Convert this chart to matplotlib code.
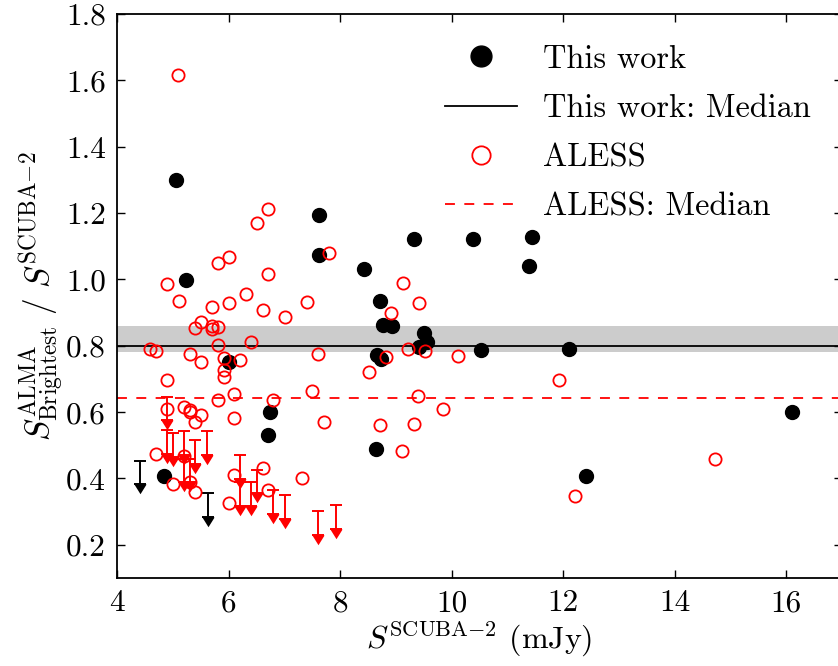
import numpy as np
import matplotlib
matplotlib.use("Agg")
import matplotlib.pyplot as plt

plt.rcParams['font.family'] = 'serif'
plt.rcParams['font.serif'] = ['cmr10', 'DejaVu Serif']
plt.rcParams['mathtext.fontset'] = 'cm'
plt.rcParams['axes.formatter.use_mathtext'] = True
plt.rcParams['axes.unicode_minus'] = False

# ---- This work: detections ----
this_x = [5.06, 5.24, 7.62, 7.62, 8.42, 9.33, 10.39, 11.45, 11.38, 8.71, 8.77, 8.93,
          9.51, 9.56, 9.42, 8.66, 8.74, 10.53, 12.10, 6.01, 6.74, 6.71, 4.84, 8.65,
          12.41, 16.10]
this_y = [1.30, 0.997, 1.193, 1.074, 1.031, 1.122, 1.121, 1.127, 1.041, 0.935, 0.864, 0.861,
          0.838, 0.810, 0.796, 0.771, 0.761, 0.788, 0.790, 0.750, 0.600, 0.530, 0.408, 0.490,
          0.408, 0.601]
# ---- This work: upper limits ----
this_lim_x = [4.41, 5.64]
this_lim_y = [0.454, 0.356]

# ---- ALESS: detections ----
aless_x = [5.10, 4.90, 5.11, 5.81, 6.01, 5.71, 6.01, 6.31, 6.51, 6.71, 6.71, 6.61, 7.01,
           7.41, 7.81, 5.40, 5.51, 5.71, 5.71, 5.81, 4.59, 4.70, 5.81, 6.40, 5.30, 5.51,
           5.91, 6.21, 5.91, 5.91, 4.90, 5.81, 6.10, 6.80, 7.50, 7.61, 7.71, 4.90, 5.20,
           5.30, 5.30, 5.51, 5.40, 6.10, 4.70, 5.20, 6.10, 6.61, 6.71, 7.31, 5.00, 5.30,
           5.40, 6.01, 9.12, 9.42, 8.91, 8.82, 9.21, 9.52, 10.12, 8.51, 11.92, 9.40, 9.84,
           14.73, 12.22, 8.72, 9.33, 9.11]
aless_y = [1.617, 0.986, 0.936, 1.049, 1.069, 0.917, 0.930, 0.956, 1.171, 1.211, 1.016, 0.908, 0.886,
           0.933, 1.081, 0.855, 0.872, 0.861, 0.851, 0.858, 0.791, 0.784, 0.801, 0.811, 0.776, 0.750,
           0.763, 0.758, 0.728, 0.705, 0.698, 0.637, 0.655, 0.637, 0.664, 0.776, 0.570, 0.610, 0.615,
           0.607, 0.600, 0.590, 0.570, 0.583, 0.475, 0.467, 0.409, 0.433, 0.364, 0.400, 0.382, 0.388,
           0.358, 0.325, 0.989, 0.930, 0.899, 0.766, 0.791, 0.783, 0.770, 0.720, 0.696, 0.649, 0.610,
           0.459, 0.348, 0.562, 0.565, 0.484]
# ---- ALESS: upper limits ----
aless_lim_x = [4.90, 4.90, 5.00, 5.20, 5.20, 5.30, 5.40, 5.61, 6.21, 6.21, 6.41, 6.51, 6.80,
               7.01, 7.61, 7.92]
aless_lim_y = [0.647, 0.547, 0.537, 0.542, 0.460, 0.460, 0.517, 0.544, 0.470, 0.390, 0.388,
               0.427, 0.364, 0.349, 0.301, 0.319]
lim_len = 0.072

# ---- medians ----
this_median = 0.80
this_median_lo = 0.78
this_median_hi = 0.86
aless_median = 0.643

xticks = [4, 6, 8, 10, 12, 14, 16]
yticks = [0.2, 0.4, 0.6, 0.8, 1.0, 1.2, 1.4, 1.6, 1.8]

fig = plt.figure(figsize=(8.38, 6.66), dpi=100)
ax = fig.add_axes([117 / 838, 88 / 666, 725 / 838, 564 / 666])

ax.axhspan(this_median_lo, this_median_hi, color='#cccccc', lw=0, zorder=0)
ax.axhline(this_median, color='k', lw=1.3, zorder=1, label='This work: Median')
ax.axhline(aless_median, color='red', lw=1.3, ls=(0, (5.5, 5.2)), zorder=1, label='ALESS: Median')

tri = [(-1, 0), (1, 0), (0, -1.6)]


def limits(xs, ys, color):
    xs = np.asarray(xs)
    ys = np.asarray(ys)
    err = np.vstack([np.full(len(ys), lim_len), np.zeros(len(ys))])
    ax.errorbar(xs, ys, yerr=err, fmt='none', ecolor=color, elinewidth=1.4,
                capsize=4.2, capthick=1.4, zorder=2)
    ax.plot(xs, ys - lim_len, ls='none', marker=tri, markersize=14,
            color=color, markeredgewidth=0, zorder=2)


limits(this_lim_x, this_lim_y, 'k')
limits(aless_lim_x, aless_lim_y, 'red')

ax.plot(this_x, this_y, ls='none', marker='o', markersize=10, color='k',
        markeredgecolor='k', zorder=3, label='This work')
ax.plot(aless_x, aless_y, ls='none', marker='o', markersize=8.8, markerfacecolor='none',
        markeredgecolor='red', markeredgewidth=1.3, zorder=4, label='ALESS')

ax.set_xlim(4, 17)
ax.set_ylim(0.1, 1.8)
ax.set_xticks(xticks)
ax.set_yticks(yticks)
ax.set_xticklabels([str(t) for t in xticks])
ax.set_yticklabels(['%.1f' % t for t in yticks])
ax.tick_params(direction='in', top=True, right=True, length=6, width=1.0,
               labelsize=22.5, pad=8)
for s in ax.spines.values():
    s.set_linewidth(1.3)

ax.set_xlabel(r'$S^{{\rm SCUBA}{-}2}$ (mJy)', fontsize=23, labelpad=2)
ax.set_ylabel(r'$S^{\rm ALMA}_{\rm Brightest}\ /\ S^{{\rm SCUBA}{-}2}$', fontsize=24, labelpad=-1)

h, l = ax.get_legend_handles_labels()
order = ['This work', 'This work: Median', 'ALESS', 'ALESS: Median']
hd = dict(zip(l, h))
ax.legend([hd[k] for k in order], order, loc='upper right', frameon=False,
          fontsize=23.3, numpoints=1, markerscale=1.5, handlelength=2.2,
          labelspacing=0.62, handletextpad=0.83, borderpad=0.4, borderaxespad=0.55)

fig.savefig('out.png', dpi=100)
